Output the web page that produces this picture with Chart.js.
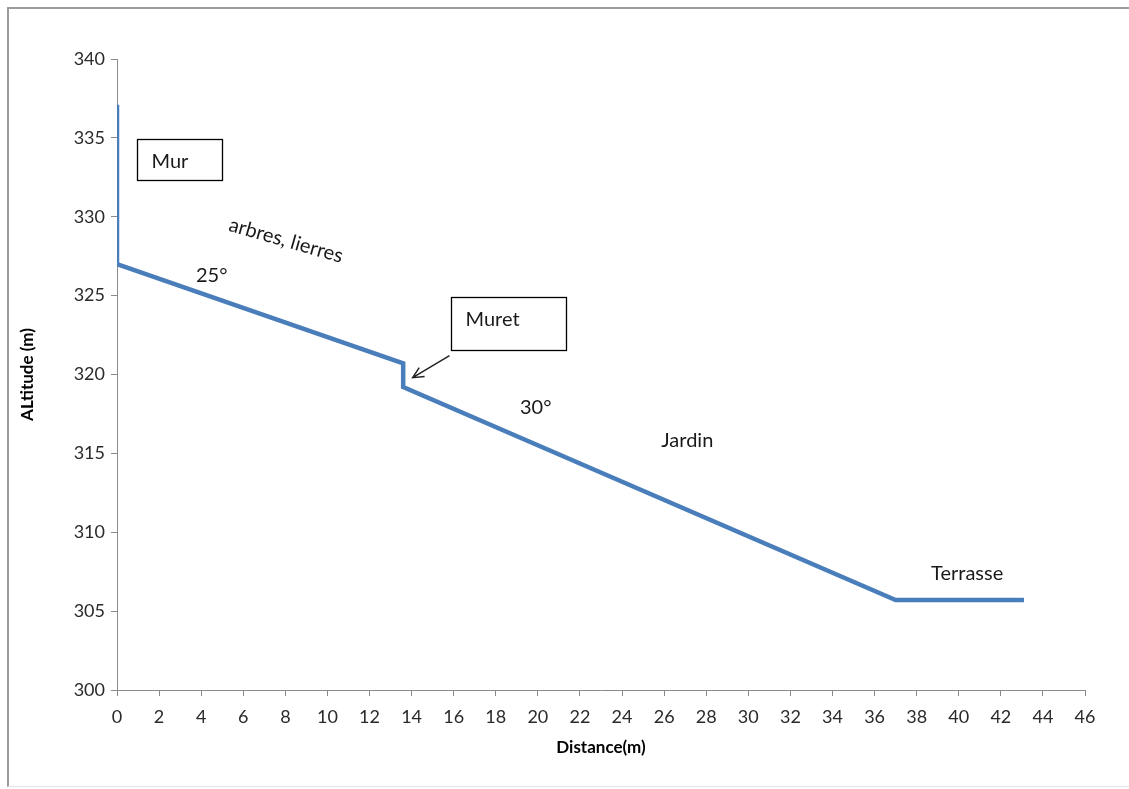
<!DOCTYPE html>
<html lang="fr">
<head>
<meta charset="utf-8">
<title>Profil altimétrique</title>
<script src="https://cdn.jsdelivr.net/npm/chart.js@4.4.1/dist/chart.umd.min.js"></script>
<style>
  html, body { margin: 0; padding: 0; background: #fff; }
  #wrap { position: relative; width: 1129px; height: 789px; }
  #frame {
    position: absolute; left: 7px; top: 7px; right: -2px; bottom: 2px;
    border-left: 2px solid #9c9c9c; border-top: 2px solid #9c9c9c;
    border-bottom: 1px solid #e4e4e4;
  }
  canvas { position: absolute; left: 0; top: 0; }
</style>
</head>
<body>
<div id="wrap">
  <div id="frame"></div>
  <canvas id="profil" width="1129" height="789"></canvas>
</div>
<script>
// profil du terrain : distance horizontale (m) / altitude (m)
const distance = [0, 0, 13.6, 13.6, 37, 43.1];
const altitude = [337.1, 327, 320.7, 319.2, 305.7, 305.7];

const xTicks = [0, 2, 4, 6, 8, 10, 12, 14, 16, 18, 20, 22, 24, 26, 28, 30, 32, 34, 36, 38, 40, 42, 44, 46];
const yTicks = [300, 305, 310, 315, 320, 325, 330, 335, 340];

// étiquettes posées en coordonnées du graphique
const labels = [
  { text: 'arbres, lierres', x: 8.03, y: 328.5, angle: 16 },
  { text: '25°', x: 4.5, y: 326.3, angle: 0 },
  { text: '30°', x: 19.9, y: 317.9, angle: 0 },
  { text: 'Jardin', x: 27.1, y: 315.8, angle: 0 },
  { text: 'Terrasse', x: 40.4, y: 307.4, angle: 0 }
];
// cadres : coin haut-gauche en coordonnées, taille en px
const boxes = [
  { text: 'Mur', x: 0.95, y: 334.93, w: 85, h: 41 },
  { text: 'Muret', x: 15.87, y: 324.92, w: 115, h: 53 }
];
const arrows = [
  { from: [15.8, 321.2], to: [14.05, 319.8] }
];

const FONT = 'Lato, "Open Sans", sans-serif';
const TXT = '#1a1a1a';

const annotations = {
  id: 'annotations',
  afterDatasetsDraw(chart) {
    const { ctx, scales: { x, y } } = chart;
    ctx.save();
    ctx.fillStyle = TXT;
    ctx.font = '20px ' + FONT;
    ctx.textAlign = 'center';
    ctx.textBaseline = 'middle';
    labels.forEach(l => {
      ctx.save();
      ctx.translate(x.getPixelForValue(l.x), y.getPixelForValue(l.y));
      ctx.rotate(l.angle * Math.PI / 180);
      ctx.fillText(l.text, 0, 0);
      ctx.restore();
    });

    boxes.forEach(b => {
      const px = Math.round(x.getPixelForValue(b.x)) + 0.5;
      const py = Math.round(y.getPixelForValue(b.y)) + 0.5;
      ctx.fillStyle = '#fff';
      ctx.fillRect(px, py, b.w, b.h);
      ctx.strokeStyle = '#000';
      ctx.lineWidth = 1.3;
      ctx.strokeRect(px, py, b.w, b.h);
      ctx.fillStyle = TXT;
      ctx.textAlign = 'left';
      ctx.fillText(b.text, px + 14, py + 22);
    });

    arrows.forEach(a => {
      const x0 = x.getPixelForValue(a.from[0]), y0 = y.getPixelForValue(a.from[1]);
      const x1 = x.getPixelForValue(a.to[0]), y1 = y.getPixelForValue(a.to[1]);
      const ang = Math.atan2(y1 - y0, x1 - x0);
      ctx.strokeStyle = '#222';
      ctx.lineWidth = 1.5;
      ctx.beginPath();
      ctx.moveTo(x0, y0);
      ctx.lineTo(x1, y1);
      ctx.moveTo(x1 - 12 * Math.cos(ang - 0.45), y1 - 12 * Math.sin(ang - 0.45));
      ctx.lineTo(x1, y1);
      ctx.lineTo(x1 - 12 * Math.cos(ang + 0.45), y1 - 12 * Math.sin(ang + 0.45));
      ctx.stroke();
    });
    ctx.restore();
  }
};

const axisGrid = { drawOnChartArea: false, drawTicks: true, tickLength: 6, color: '#8a8a8a' };

new Chart(document.getElementById('profil'), {
  type: 'scatter',
  data: {
    datasets: [{
      data: distance.map((d, i) => ({ x: d, y: altitude[i] })),
      showLine: true,
      borderColor: '#4a7ebb',
      borderWidth: 4.5,
      borderJoinStyle: 'miter',
      pointRadius: 0,
      fill: false
    }]
  },
  options: {
    responsive: false,
    animation: false,
    layout: { padding: { left: 13, top: 59, right: 44, bottom: 27 } },
    plugins: { legend: { display: false }, tooltip: { enabled: false } },
    scales: {
      x: {
        type: 'linear',
        min: 0, max: 46,
        afterBuildTicks: s => { s.ticks = xTicks.map(v => ({ value: v })); },
        afterFit: s => { s.height = 72; },
        grid: axisGrid,
        border: { color: '#8a8a8a', width: 1 },
        ticks: { color: '#2a2a2a', padding: 10, maxRotation: 0, font: { family: FONT, size: 18 } },
        title: { display: true, text: 'Distance(m)', color: '#000', font: { family: FONT, size: 17, weight: 'bold' } }
      },
      y: {
        min: 300, max: 340,
        afterBuildTicks: s => { s.ticks = yTicks.map(v => ({ value: v })); },
        afterFit: s => { s.width = 104; },
        grid: axisGrid,
        border: { color: '#8a8a8a', width: 1 },
        ticks: { color: '#2a2a2a', padding: 6, font: { family: FONT, size: 18 } },
        title: { display: true, text: 'ALtitude (m)', color: '#000', font: { family: FONT, size: 17, weight: 'bold' } }
      }
    }
  },
  plugins: [annotations]
});
</script>
</body>
</html>
